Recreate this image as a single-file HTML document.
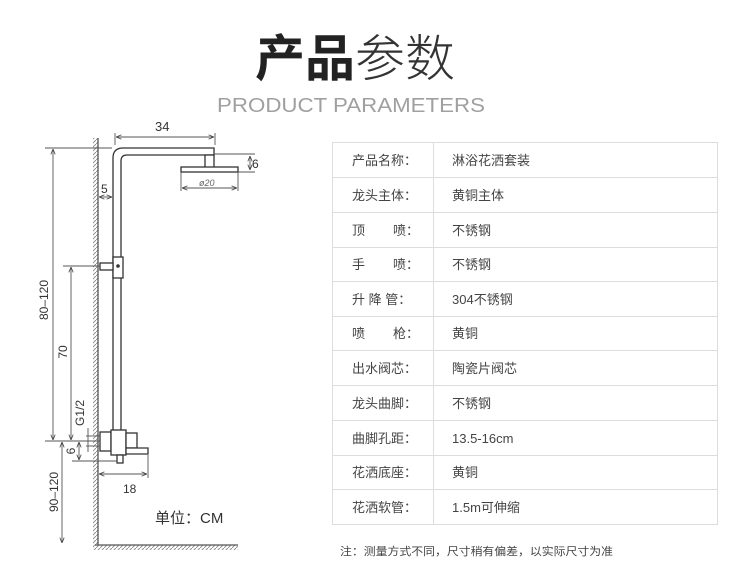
<!DOCTYPE html>
<html><head><meta charset="utf-8"><style>
html,body{margin:0;padding:0;background:#fff;width:750px;height:575px;overflow:hidden}
text{font-family:"Liberation Sans","Noto Sans CJK SC",sans-serif}
</style></head><body>
<svg width="750" height="575" viewBox="0 0 750 575" xmlns="http://www.w3.org/2000/svg">
<defs>
<pattern id="h" width="4" height="4" patternUnits="userSpaceOnUse"><path d="M0 4L4 0" stroke="#888" stroke-width="0.9"/></pattern>
<marker id="a" viewBox="0 0 10 10" refX="10" refY="5" markerWidth="6" markerHeight="6" orient="auto-start-reverse"><path d="M0 1L10 5L0 9" fill="none" stroke="#444" stroke-width="1.5"/></marker>
</defs>
<!-- title -->
<text x="255" y="76" font-size="50" font-weight="bold" fill="#222" textLength="100" lengthAdjust="spacingAndGlyphs">产品</text>
<text x="355" y="76" font-size="50" font-weight="300" fill="#333" textLength="100" lengthAdjust="spacingAndGlyphs">参数</text>
<text x="217" y="112" font-size="20" fill="#a0a0a0" textLength="268" lengthAdjust="spacingAndGlyphs">PRODUCT PARAMETERS</text>
<!-- table -->
<g stroke="#ddd" stroke-width="1" fill="none">
<rect x="332.5" y="142.5" width="385" height="382"/>
<line x1="433.5" y1="142" x2="433.5" y2="525"/>
<line x1="332" y1="177.5" x2="718" y2="177.5"/>
<line x1="332" y1="212.5" x2="718" y2="212.5"/>
<line x1="332" y1="247.5" x2="718" y2="247.5"/>
<line x1="332" y1="281.5" x2="718" y2="281.5"/>
<line x1="332" y1="316.5" x2="718" y2="316.5"/>
<line x1="332" y1="350.5" x2="718" y2="350.5"/>
<line x1="332" y1="385.5" x2="718" y2="385.5"/>
<line x1="332" y1="420.5" x2="718" y2="420.5"/>
<line x1="332" y1="455.5" x2="718" y2="455.5"/>
<line x1="332" y1="489.5" x2="718" y2="489.5"/>
</g>
<g font-size="13" fill="#444">
<text x="352" y="165">产品名称：</text><text x="452" y="165">淋浴花洒套装</text>
<text x="352" y="200">龙头主体：</text><text x="452" y="200">黄铜主体</text>
<text x="352" y="235">顶</text><text x="393" y="235">喷：</text><text x="452" y="235">不锈钢</text>
<text x="352" y="269">手</text><text x="393" y="269">喷：</text><text x="452" y="269">不锈钢</text>
<text x="352" y="304">升 降 管：</text><text x="452" y="304">304不锈钢</text>
<text x="352" y="338">喷</text><text x="393" y="338">枪：</text><text x="452" y="338">黄铜</text>
<text x="352" y="373">出水阀芯：</text><text x="452" y="373">陶瓷片阀芯</text>
<text x="352" y="408">龙头曲脚：</text><text x="452" y="408">不锈钢</text>
<text x="352" y="443">曲脚孔距：</text><text x="452" y="443">13.5-16cm</text>
<text x="352" y="477">花洒底座：</text><text x="452" y="477">黄铜</text>
<text x="352" y="512">花洒软管：</text><text x="452" y="512">1.5m可伸缩</text>
</g>
<text x="340" y="555" font-size="11" fill="#444" textLength="273" lengthAdjust="spacingAndGlyphs">注：测量方式不同，尺寸稍有偏差，以实际尺寸为准</text>
<!-- drawing: wall & floor -->
<rect x="93" y="138" width="5" height="407" fill="url(#h)"/>
<line x1="98" y1="138" x2="98" y2="545" stroke="#555" stroke-width="1.3"/>
<rect x="93" y="545" width="145" height="5" fill="url(#h)"/>
<line x1="95" y1="545" x2="238" y2="545" stroke="#555" stroke-width="1.3"/>
<!-- pipe -->
<g fill="#fff" stroke="#333" stroke-width="1.3">
<path d="M113 432 V158 Q113 148 123 148 H214 V155 H127 Q121 155 121 161 V432"/>
<rect x="205" y="155" width="9" height="13"/>
<rect x="181" y="167" width="57" height="5"/>
<rect x="113" y="257" width="10" height="21"/>
<rect x="100" y="263" width="13" height="7"/>
<rect x="100" y="432" width="11" height="19"/>
<rect x="111" y="430" width="15" height="25"/>
<rect x="126" y="433" width="11" height="15"/>
<path d="M126 448 H148 V454 H126 Z"/>
<rect x="117" y="455" width="6" height="8"/>
</g>
<circle cx="118" cy="266" r="1.8" fill="#333"/>
<!-- dims -->
<g stroke="#555" stroke-width="0.9" fill="none">
<line x1="115" y1="133" x2="115" y2="145"/><line x1="215" y1="133" x2="215" y2="145"/>
<line x1="116" y1="137" x2="214" y2="137" marker-start="url(#a)" marker-end="url(#a)"/>
<line x1="214" y1="154" x2="255" y2="154"/><line x1="238" y1="172" x2="255" y2="172"/>
<line x1="250" y1="156" x2="250" y2="170" marker-start="url(#a)" marker-end="url(#a)"/>
<line x1="181" y1="172" x2="181" y2="191"/><line x1="238" y1="172" x2="238" y2="191"/>
<line x1="182" y1="188" x2="237" y2="188" marker-start="url(#a)" marker-end="url(#a)"/>
<line x1="99" y1="197" x2="112" y2="197" marker-start="url(#a)" marker-end="url(#a)"/>
<line x1="45" y1="148" x2="112" y2="148"/>
<line x1="53" y1="149" x2="53" y2="440" marker-start="url(#a)" marker-end="url(#a)"/>
<line x1="63" y1="266" x2="100" y2="266"/>
<line x1="71" y1="267" x2="71" y2="440" marker-start="url(#a)" marker-end="url(#a)"/>
<line x1="45" y1="441" x2="100" y2="441"/>
<line x1="72" y1="461" x2="117" y2="461"/>
<line x1="79" y1="442" x2="79" y2="460" marker-start="url(#a)" marker-end="url(#a)"/>
<line x1="88" y1="428" x2="88" y2="452"/><line x1="86" y1="436" x2="100" y2="436"/><line x1="86" y1="446" x2="100" y2="446"/>
<line x1="62" y1="442" x2="62" y2="543" marker-start="url(#a)" marker-end="url(#a)"/>
<line x1="148" y1="455" x2="148" y2="478"/>
<line x1="99" y1="474" x2="147" y2="474" marker-start="url(#a)" marker-end="url(#a)"/>
</g>
<g font-size="12" fill="#333">
<text x="155" y="131" font-family="Liberation Serif" font-size="13">34</text>
<text x="252" y="168">6</text>
<text x="199" y="186" font-size="9" font-style="italic" fill="#666">ø20</text>
<text x="101" y="193">5</text>
<text x="123" y="493">18</text>
<text transform="translate(48 300) rotate(-90)" text-anchor="middle">80–120</text>
<text transform="translate(67 352) rotate(-90)" text-anchor="middle">70</text>
<text transform="translate(84 413) rotate(-90)" text-anchor="middle">G1/2</text>
<text transform="translate(75 451) rotate(-90)" text-anchor="middle">6</text>
<text transform="translate(58 492) rotate(-90)" text-anchor="middle">90–120</text>
</g>
<text x="155" y="523" font-size="15" fill="#333">单位：CM</text>
</svg>
</body></html>
